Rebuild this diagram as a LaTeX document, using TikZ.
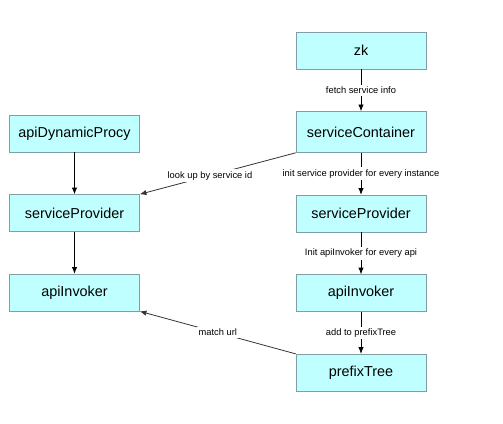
\documentclass[tikz,border=0pt]{standalone}
\usepackage{fontspec}
\setmainfont{Liberation Sans}
\usetikzlibrary{arrows.meta}
\usetikzlibrary{calc,positioning}

\definecolor{boxfill}{RGB}{192,255,255}
\definecolor{boxline}{RGB}{128,158,164}

\begin{document}
\begin{tikzpicture}[x=0.75pt, y=-0.75pt, node distance=31.5pt]
	\tikzstyle{comp}=[fill=boxfill, draw=boxline, rectangle,
	minimum width=97.5pt, minimum height=27.75pt, inner sep=0pt,
	font=\fontsize{10.8}{13}\selectfont, text centered]
	\tikzstyle{call}=[black, line width=0.6pt, -{Latex[length=5pt,width=4pt]}]
	\tikzstyle{tag}=[fill=white, inner sep=1.5pt, font=\fontsize{7}{8}\selectfont]
	\useasboundingbox (0,0) rectangle (503,424);
	% right column: registration
	\node[comp] (zk) at (361,50.5) {zk};
	\node[comp, below=of zk, minimum height=30.75pt] (container) {serviceContainer};
	\node[comp, below=of container] (providerR) {serviceProvider};
	\node[comp, below=of providerR] (invokerR) {apiInvoker};
	\node[comp, below=of invokerR] (tree) {prefixTree};
	% left column: lookup
	\node[comp] (proxy) at (74.5,133.5) {apiDynamicProcy};
	\node[comp, below=of proxy] (providerL) {serviceProvider};
	\node[comp, below=of providerL] (invokerL) {apiInvoker};
	\draw[call] (zk) -- node[tag] {fetch service info} (container);
	\draw[call] (container) -- node[tag] {init service provider for every instance} (providerR);
	\draw[call] (providerR) -- node[tag] {Init apiInvoker for every api} (invokerR);
	\draw[call] (invokerR) -- node[tag] {add to prefixTree} (tree);
	\draw[call] (proxy) -- (providerL);
	\draw[call] (providerL) -- (invokerL);
	\draw[call, draw=black!80] (container.south west) -- node[tag, pos=0.55] {look up by service id} (providerL.north east);
	\draw[call, draw=black!80] (tree.north west) -- node[tag, pos=0.5] {match url} (invokerL.south east);
\end{tikzpicture}
\end{document}
